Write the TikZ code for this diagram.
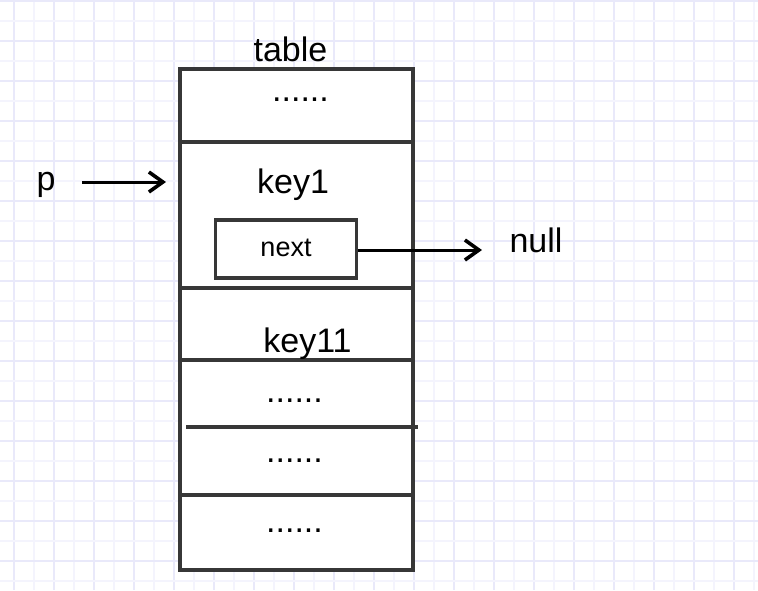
\documentclass[tikz,border=0pt]{standalone}
\usepackage{fontspec}
\setmainfont{Liberation Sans}
\usetikzlibrary{arrows.meta}
\definecolor{gridmajor}{RGB}{233,233,250}
\definecolor{gridminor}{RGB}{244,244,253}
\definecolor{boxline}{RGB}{55,55,55}
\tikzset{
  cellline/.style={boxline, line width=1.6pt},
  label/.style={inner sep=0pt, anchor=base, font=\fontsize{17}{20}\selectfont},
  nextbox/.style={draw=boxline, line width=1.6pt, fill=white, minimum width=70.5pt, minimum height=29pt, inner sep=0pt, text depth=0pt, text height=7pt, font=\fontsize{13.5}{16}\selectfont},
  pointer/.style={black, line width=1.5pt, -{Straight Barb[length=7pt,width=10pt,line width=1.8pt]}}
}
\begin{document}
\begin{tikzpicture}[x=0.5pt,y=-0.5pt]
		\useasboundingbox (0,0) rectangle (758,590);
		\fill [white] (0,0) rectangle (758,590);
		\foreach \k in {0,...,18} {
			\draw [gridminor, line width=1pt] (34.3+40*\k,0) -- (34.3+40*\k,590);
			\draw [gridmajor, line width=1pt] (14.3+40*\k,0) -- (14.3+40*\k,590);
		}
		\foreach \k in {0,...,14} {
			\draw [gridminor, line width=1pt] (0,21+40*\k) -- (758,21+40*\k);
			\draw [gridmajor, line width=1pt] (0,1+40*\k) -- (758,1+40*\k);
		}
		\draw [cellline, fill=white] (180,69) rectangle (413,570);
		\draw [cellline] (180,142) -- (413,142);
		\draw [cellline] (180,288) -- (413,288);
		\draw [cellline] (180,360) -- (413,360);
		\draw [cellline] (186,427) -- (418,427);
		\draw [cellline] (182,495) -- (413,495);
		\node [label] (tablename) at (290.5,61.7) {table};
		\node [label] (dots0) at (300.5,101.5) {......};
		\node [label] (key1) at (293,193) {key1};
		\node [nextbox] (next) at (286,249) {next};
		\node [label] (null) at (536,252) {null};
		\node [label] (key11) at (307.5,352) {key11};
		\node [label] (dots1) at (294.5,402) {......};
		\node [label] (dots2) at (294.5,462) {......};
		\node [label] (dots3) at (294.5,532) {......};
		\node [label] (p) at (46,190) {p};
		\coordinate (pstart) at (82,182);
		\coordinate (pend) at (166,182);
		\coordinate (nullend) at (482,250);
		\draw [pointer] (pstart) -- (pend);
		\draw [pointer] (next.east |- nullend) -- (nullend);
\end{tikzpicture}
\end{document}
